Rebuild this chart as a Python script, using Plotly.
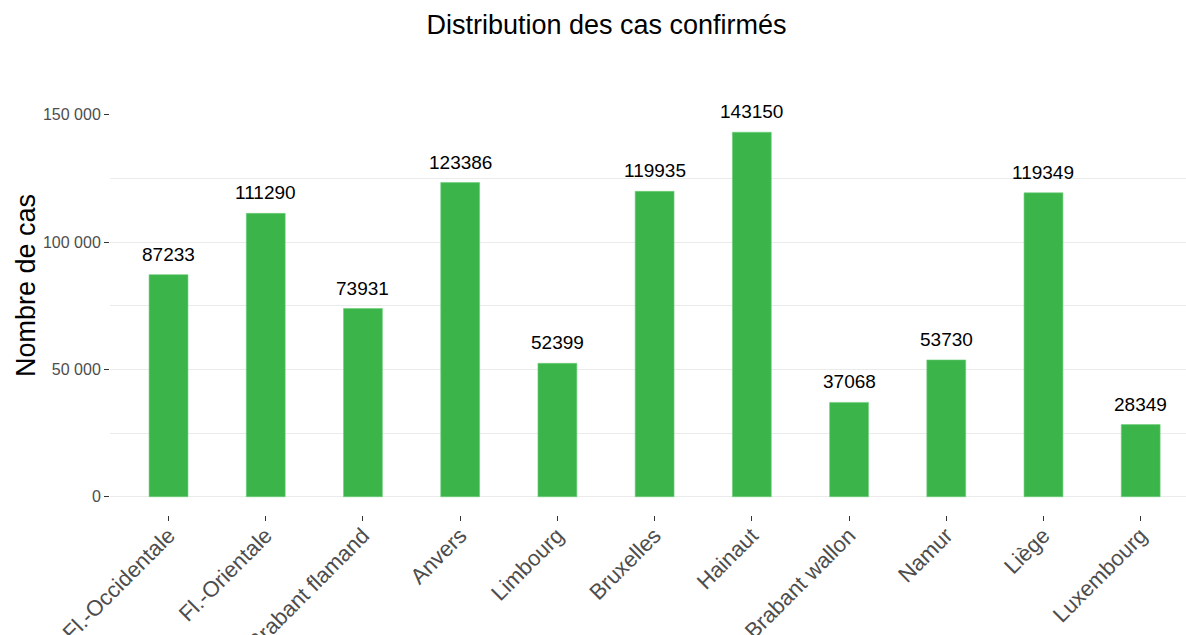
import plotly.graph_objects as go

provinces = ["Fl.-Occidentale", "Fl.-Orientale", "Brabant flamand", "Anvers", "Limbourg",
             "Bruxelles", "Hainaut", "Brabant wallon", "Namur", "Liège", "Luxembourg"]
cases = [87233, 111290, 73931, 123386, 52399, 119935, 143150, 37068, 53730, 119349, 28349]
y_tickvals = [0, 50000, 100000, 150000]
y_ticktext = ["0", "50 000", "100 000", "150 000"]

FONT = "Liberation Sans, Arial, sans-serif"
GREEN = "#3BB54A"
GRID = "#EBEBEB"

fig = go.Figure()
fig.add_trace(go.Bar(
    x=provinces, y=cases, width=0.4,
    marker=dict(color=GREEN, line=dict(color="#6fcf7b", width=0.6)),
    hoverinfo="x+y", showlegend=False,
))

for p, v in zip(provinces, cases):
    fig.add_annotation(x=p, y=v, text=str(v), showarrow=False, xref="x", yref="y",
                       yanchor="bottom", yshift=8,
                       font=dict(family=FONT, size=19, color="#000000"))

fig.add_annotation(text="Nombre de cas", xref="paper", yref="paper",
                   x=(26-110)/1076, y=(515-286)/401, xanchor="center", yanchor="middle",
                   textangle=-90, showarrow=False,
                   font=dict(family=FONT, size=27, color="#000000"))

fig.update_layout(
    width=1186, height=635,
    margin=dict(l=110, r=0, t=114, b=120, autoexpand=False),
    plot_bgcolor="white", paper_bgcolor="white",
    title=dict(text="Distribution des cas confirmés", x=606.5/1186, xref="container",
               xanchor="center", y=1-25/635, yref="container", yanchor="middle",
               font=dict(family=FONT, size=27, color="#000000")),
    bargap=0.6,
    xaxis=dict(
        range=[-0.602, 10.466], showgrid=False, zeroline=False, showline=False,
        tickangle=-45, ticks="outside", ticklen=5, tickwidth=1, tickcolor="#333333",
        ticklabelstandoff=-7,
        tickfont=dict(family=FONT, size=22, color="#4D4D4D"),
        fixedrange=True,
    ),
    yaxis=dict(
        range=[-7157, 150307], tickvals=y_tickvals, ticktext=y_ticktext,
        showgrid=True, gridcolor=GRID, gridwidth=1, zeroline=False, showline=False,
        ticks="outside", ticklen=5, tickwidth=1, tickcolor="#333333",
        tickfont=dict(family=FONT, size=16, color="#4D4D4D"),
        minor=dict(dtick=25000, tick0=0, showgrid=True, gridcolor=GRID, gridwidth=1, ticks=""),
        fixedrange=True,
    ),
)

fig.write_html("out.html")
